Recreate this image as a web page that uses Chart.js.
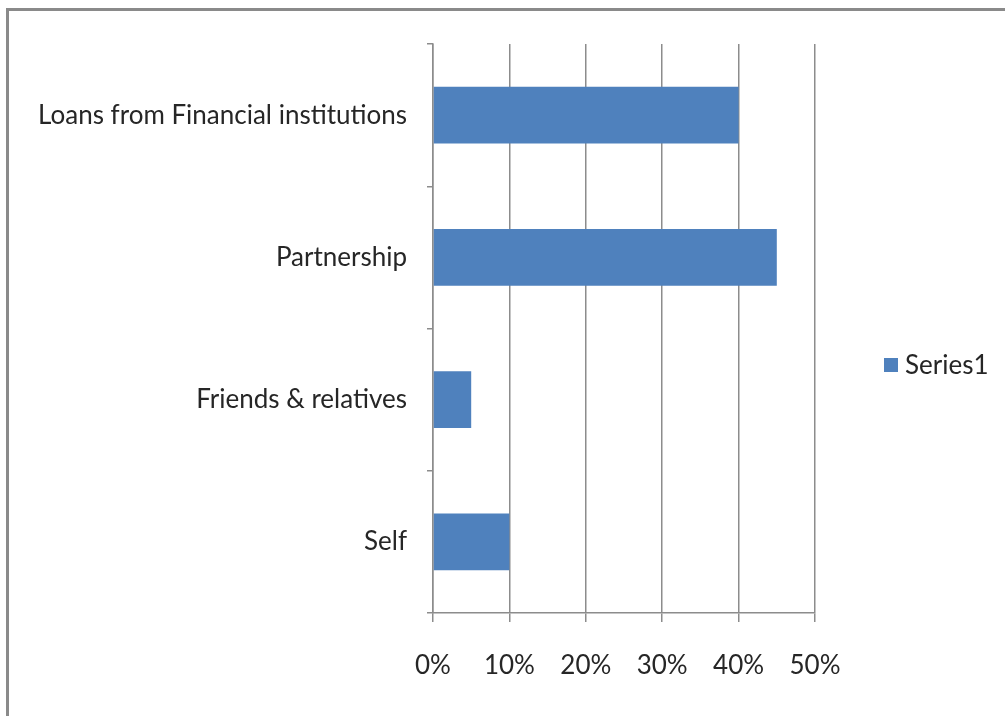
<!DOCTYPE html>
<html>
<head>
<meta charset="utf-8">
<script src="https://cdn.jsdelivr.net/npm/chart.js@4/dist/chart.umd.min.js"></script>
<style>
  html, body { margin: 0; padding: 0; background: #fff; overflow: hidden; }
  #wrap { position: relative; width: 1005px; height: 716px; }
  #frame {
    position: absolute; left: 6px; top: 8px; width: 1100px; height: 800px;
    border: 3px solid #8a8a8a; pointer-events: none;
  }
</style>
</head>
<body>
<div id="wrap">
  <canvas id="chart" width="1005" height="716"></canvas>
  <div id="frame"></div>
</div>
<script>
// dữ liệu
const categories = ["Loans from Financial institutions", "Partnership", "Friends & relatives", "Self"];
const seriesName = "Series1";
const seriesValues = [40, 45, 5, 10];
const xTicks = [0, 10, 20, 30, 40, 50];

const FONT = "Lato, 'Liberation Sans', sans-serif";

// legend tự vẽ bên phải
const sideLegend = {
  id: "sideLegend",
  afterDraw(chart) {
    const ctx = chart.ctx;
    const ds = chart.data.datasets[0];
    ctx.save();
    ctx.fillStyle = ds.backgroundColor;
    ctx.fillRect(884, 358, 14, 14);
    ctx.fillStyle = "#262626";
    ctx.font = "26px " + FONT;
    ctx.textBaseline = "middle";
    ctx.textAlign = "left";
    ctx.fillText(ds.label, 905, 366);
    ctx.restore();
  },
};

const ctx = document.getElementById("chart").getContext("2d");
new Chart(ctx, {
  type: "bar",
  data: {
    labels: categories,
    datasets: [
      {
        label: seriesName,
        data: seriesValues,
        backgroundColor: "#4f81bd",
        borderWidth: 0,
        barPercentage: 0.4,
        categoryPercentage: 1,
      },
    ],
  },
  options: {
    indexAxis: "y",
    responsive: false,
    animation: false,
    layout: { padding: { left: 0, top: 44, right: 190, bottom: 0 } },
    plugins: {
      legend: { display: false },
      tooltip: { enabled: false },
    },
    scales: {
      x: {
        min: 0,
        max: 50,
        afterFit: (scale) => { scale.height = 103; },
        afterBuildTicks: (scale) => { scale.ticks = xTicks.map((v) => ({ value: v })); },
        ticks: {
          padding: 28,
          color: "#262626",
          font: { family: FONT, size: 26 },
          callback: (v) => v + "%",
        },
        grid: { color: "#8c8c8c", lineWidth: 1.5, tickLength: 9 },
        border: { color: "#8c8c8c", width: 1.5 },
      },
      y: {
        afterFit: (scale) => { scale.width = 433; },
        ticks: {
          padding: 20,
          color: "#262626",
          font: { family: FONT, size: 26 },
        },
        grid: { drawOnChartArea: false, color: "#8c8c8c", lineWidth: 1.5, tickLength: 6 },
        border: { color: "#8c8c8c", width: 1.5 },
      },
    },
  },
  plugins: [sideLegend],
});
</script>
</body>
</html>
